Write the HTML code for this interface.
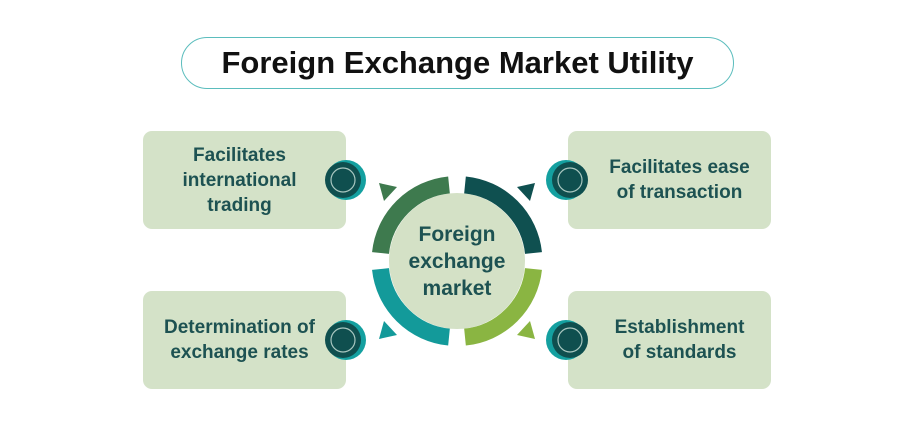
<!DOCTYPE html>
<html><head><style>
body{margin:0;width:900px;height:433px;background:#fff;position:relative;overflow:hidden;font-family:"Liberation Sans",sans-serif;}
.title{position:absolute;left:181px;top:37px;width:553px;height:52px;border:1.5px solid #5bbdbd;border-radius:26px;box-sizing:border-box;text-align:center;line-height:50px;font-size:31px;font-weight:bold;color:#111;letter-spacing:0px}
.box{position:absolute;width:203px;height:98px;background:#d4e2c8;border-radius:9px;display:flex;align-items:center;justify-content:center;text-align:center;color:#1d5252;font-weight:bold;font-size:19px;line-height:25px}
</style></head><body>
<div class="title">Foreign Exchange Market Utility</div>
<div class="box" style="left:143px;top:131px;padding-right:10px;box-sizing:border-box">Facilitates<br>international<br>trading</div>
<div class="box" style="left:568px;top:131px;padding-left:20px;box-sizing:border-box">Facilitates ease<br>of transaction</div>
<div class="box" style="left:143px;top:291px;padding-right:10px;box-sizing:border-box">Determination of<br>exchange rates</div>
<div class="box" style="left:568px;top:291px;padding-left:20px;box-sizing:border-box">Establishment<br>of standards</div>
<svg width="900" height="433" style="position:absolute;left:0;top:0">
<g>
<circle cx="346" cy="180" r="20" fill="#14a0a0"/><circle cx="343" cy="180" r="18" fill="#0f4f4f"/><circle cx="343" cy="180" r="12" fill="none" stroke="#a9c7c0" stroke-width="1.2"/>
<circle cx="566" cy="180" r="20" fill="#14a0a0"/><circle cx="570" cy="180" r="18" fill="#0f4f4f"/><circle cx="570" cy="180" r="12" fill="none" stroke="#a9c7c0" stroke-width="1.2"/>
<circle cx="346" cy="340" r="20" fill="#14a0a0"/><circle cx="343" cy="340" r="18" fill="#0f4f4f"/><circle cx="343" cy="340" r="12" fill="none" stroke="#a9c7c0" stroke-width="1.2"/>
<circle cx="566" cy="340" r="20" fill="#14a0a0"/><circle cx="570" cy="340" r="18" fill="#0f4f4f"/><circle cx="570" cy="340" r="12" fill="none" stroke="#a9c7c0" stroke-width="1.2"/>
</g>
<circle cx="457" cy="261" r="68" fill="#d4e1c6"/>
<g fill="none" stroke-width="17">
<path d="M 380.5 253 A 76.5 76.5 0 0 1 449 184.9" stroke="#3e7a4e"/>
<path d="M 465 184.9 A 76.5 76.5 0 0 1 533.5 253" stroke="#0f5050"/>
<path d="M 533.5 269 A 76.5 76.5 0 0 1 465 337.1" stroke="#8ab542"/>
<path d="M 449 337.1 A 76.5 76.5 0 0 1 380.5 269" stroke="#139a9a"/>
</g>
<polygon points="379,183 397,187 384,201" fill="#3e7a4e"/>
<polygon points="535,183 517,187 530,201" fill="#0f5050"/>
<polygon points="379,339 397,335 384,321" fill="#139a9a"/>
<polygon points="535,339 517,335 530,321" fill="#8ab542"/>
<text x="457" y="241" text-anchor="middle" font-family="Liberation Sans" font-weight="bold" font-size="21" fill="#1d5252">Foreign</text>
<text x="457" y="268" text-anchor="middle" font-family="Liberation Sans" font-weight="bold" font-size="21" fill="#1d5252">exchange</text>
<text x="457" y="295" text-anchor="middle" font-family="Liberation Sans" font-weight="bold" font-size="21" fill="#1d5252">market</text>
</svg>
</body></html>
